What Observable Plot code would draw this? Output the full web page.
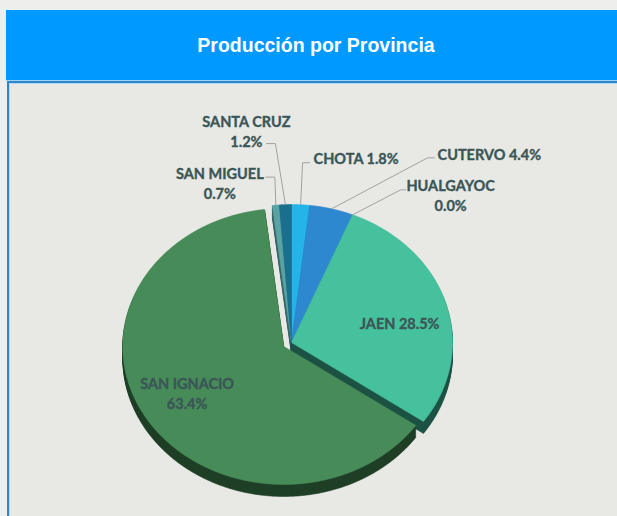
<!DOCTYPE html>
<html><head><meta charset="utf-8">
<script src="https://cdn.jsdelivr.net/npm/d3@7"></script>
<script src="https://cdn.jsdelivr.net/npm/@observablehq/plot@0.6"></script>
<style>
html,body{margin:0;padding:0}
body{background:#eeeeec;width:617px;height:516px;overflow:hidden;position:relative;font-family:"Liberation Sans",Arial,sans-serif}
#header{position:absolute;left:6px;top:10px;width:620px;height:70px;background:#0099ff;color:#fff;font-weight:bold;font-size:19.5px;line-height:70px;text-align:center}
#band{position:absolute;left:6px;top:80px;width:620px;height:1px;background:#9fd0f2}
#panel{position:absolute;left:7px;top:81px;width:620px;height:440px;background:#e8e8e4;border-left:2px solid #2b86d0;border-top:2px solid #2b86d0;box-shadow:inset 1px 1px 0 #b8d8ee}
#chart{position:absolute;left:10px;top:83px}
</style></head>
<body>
<div id="header">Producción por Provincia</div>
<div id="band"></div>
<div id="panel"></div>
<div id="chart"></div>
<script>
// ---- data ----
const provincias = ["CHOTA", "CUTERVO", "HUALGAYOC", "JAEN", "SAN IGNACIO", "SAN MIGUEL", "SANTA CRUZ"];
const porcentajes = [1.8, 4.4, 0.0, 28.5, 63.4, 0.7, 1.2];
const etiquetas = ["CHOTA 1.8%", "CUTERVO 4.4%", "HUALGAYOC\n0.0%", "JAEN 28.5%", "SAN IGNACIO\n63.4%", "SAN MIGUEL\n0.7%", "SANTA CRUZ\n1.2%"];
const separada = [false, false, false, false, true, false, false];

// ---- style ----
const coloresCara = ["#25b4e8", "#2e88d0", "#3a9fc0", "#46c19d", "#478b59", "#5aa3a3", "#1b6f8e"];
const coloresLado = ["#17708f", "#1b5588", "#23647a", "#1d5244", "#1f3f26", "#39686a", "#114659"];
const colorTexto = "#3a5656";

// ---- layout (page pixels) ----
const CX = 291, CY = 342, RX = 161, RY = 138, PROF = 12, SEP = 9;
// leader/label offsets relative to the rim point of each slice
const guias = {
  "CHOTA":      {codo: [2, -42],  fin: [9, -42],   texto: [13, -47],  anchor: "start"},
  "CUTERVO":    {codo: [96, -51], fin: [103, -51], texto: [106, -55], anchor: "start"},
  "HUALGAYOC":  {codo: [48, -25], fin: [53, -25],  texto: [98, -20],  anchor: "middle"},
  "SAN MIGUEL": {codo: [-1, -28], fin: [-10, -28], texto: [-56, -23], anchor: "middle"},
  "SANTA CRUZ": {codo: [-10, -61],fin: [-19, -61], texto: [-39, -74], anchor: "middle"}
};
const internas = {
  "JAEN":        {f: 0.7, dy: 7},
  "SAN IGNACIO": {f: 0.7, dy: -4}
};

// ---- geometry from data ----
const total = d3.sum(porcentajes);
let acc = 0;
const slices = provincias.map((p, i) => {
  const a0 = acc / total * 2 * Math.PI;
  acc += porcentajes[i];
  const a1 = acc / total * 2 * Math.PI;
  const mid = (a0 + a1) / 2;
  const off = separada[i] ? [SEP * Math.sin(mid), -SEP * (RY / RX) * Math.cos(mid)] : [0, 0];
  return {p, i, a0, a1, mid, off};
});
const pt = (s, a, f = 1) => [CX + s.off[0] + f * RX * Math.sin(a), CY + s.off[1] - f * RY * Math.cos(a)];

function poligono(s, dy, key, color) {
  const rows = [];
  const c = [CX + s.off[0], CY + s.off[1] + dy];
  rows.push({key, x: c[0], y: c[1], color});
  const n = Math.max(2, Math.ceil((s.a1 - s.a0) / (Math.PI / 360)));
  for (let k = 0; k <= n; k++) {
    const a = s.a0 + (s.a1 - s.a0) * k / n;
    const q = pt(s, a);
    rows.push({key, x: q[0], y: q[1] + dy, color});
  }
  rows.push({key, x: c[0], y: c[1], color});
  return rows;
}

const visibles = slices.filter(s => porcentajes[s.i] > 0);
const lados = [];
for (let d = PROF; d >= 1; d--) for (const s of visibles) lados.push(...poligono(s, d, `l${d}-${s.i}`, coloresLado[s.i]));
const caras = [];
for (const s of visibles) caras.push(...poligono(s, 0, `c${s.i}`, coloresCara[s.i]));

const lineasGuia = [];
const textosExt = [];
for (const s of slices) {
  const g = guias[s.p];
  if (!g) continue;
  const r = pt(s, s.mid);
  lineasGuia.push({key: s.p, x: r[0], y: r[1]});
  lineasGuia.push({key: s.p, x: r[0] + g.codo[0], y: r[1] + g.codo[1]});
  lineasGuia.push({key: s.p, x: r[0] + g.fin[0], y: r[1] + g.fin[1]});
  textosExt.push({x: r[0] + g.texto[0], y: r[1] + g.texto[1], t: etiquetas[s.i], anchor: g.anchor});
}
const textosInt = [];
for (const s of slices) {
  const g = internas[s.p];
  if (!g) continue;
  const q = pt(s, s.mid, g.f);
  textosInt.push({x: q[0], y: q[1] + g.dy, t: etiquetas[s.i]});
}

const fuente = {fontFamily: "Lato, 'Open Sans', sans-serif", fontWeight: "bold", fontSize: 14.5, fill: colorTexto, stroke: colorTexto, strokeWidth: 0.35, lineHeight: 1.4};

const chart = Plot.plot({
  width: 607, height: 433, margin: 0,
  x: {domain: [10, 617], range: [0, 607], axis: null},
  y: {domain: [83, 516], range: [0, 433], axis: null},
  color: {type: "identity"},
  style: {background: "transparent", overflow: "visible"},
  marks: [
    Plot.line(lados, {x: "x", y: "y", z: "key", fill: "color", stroke: "color", strokeWidth: 0.6, curve: "linear"}),
    Plot.line(caras, {x: "x", y: "y", z: "key", fill: "color", stroke: "color", strokeWidth: 0.6, curve: "linear"}),
    Plot.line(lineasGuia, {x: "x", y: "y", z: "key", stroke: "#a2a2a2", strokeWidth: 1, curve: "linear"}),
    Plot.text(textosExt.filter(d => d.anchor === "start"), {x: "x", y: "y", text: "t", textAnchor: "start", ...fuente}),
    Plot.text(textosExt.filter(d => d.anchor === "middle"), {x: "x", y: "y", text: "t", textAnchor: "middle", ...fuente}),
    Plot.text(textosInt, {x: "x", y: "y", text: "t", textAnchor: "middle", ...fuente})
  ]
});
document.getElementById("chart").appendChild(chart);
</script>
</body></html>
